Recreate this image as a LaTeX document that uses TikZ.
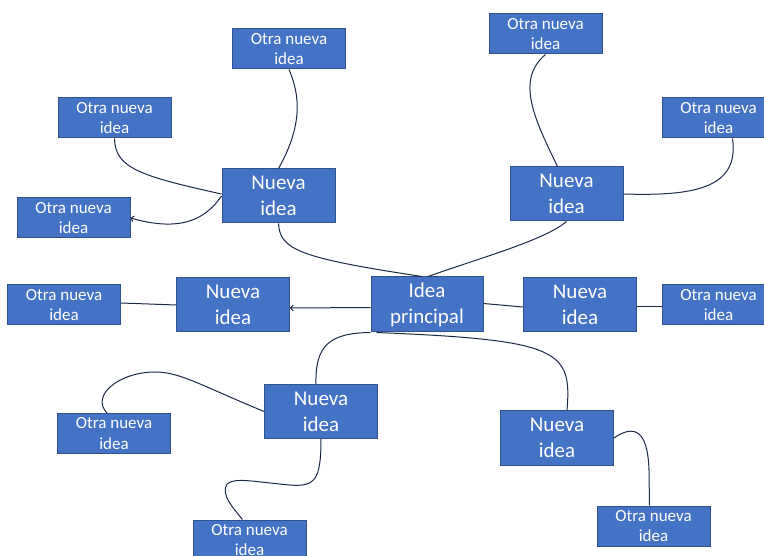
\documentclass[tikz,border=0pt]{standalone}
\usepackage{fontspec}
\setmainfont{Carlito}
\usetikzlibrary{arrows.meta}
\definecolor{boxfill}{HTML}{4472C4}
\definecolor{boxline}{HTML}{2F528F}
\definecolor{linkcol}{HTML}{1C2A48}
\begin{document}
\begin{tikzpicture}[x=1pt,y=-1pt,
  box/.style={rectangle, fill=boxfill, draw=boxline, line width=1pt, text=white,
    align=center, inner sep=0pt, anchor=center},
  leaf/.style={box, minimum width=113pt, minimum height=40pt,
    font=\fontsize{17}{20.5}\selectfont},
  branch/.style={box, minimum width=113pt, minimum height=54pt,
    font=\fontsize{21}{26}\selectfont},
  link/.style={draw=linkcol, line width=1pt},
  hook/.style={-{Straight Barb[length=2.5pt,width=6pt]}}]
\useasboundingbox (0,0) rectangle (764,556);
\clip (0,0) rectangle (764,556);
\fill[white] (0,0) rectangle (764,556);

% central idea and first-level branches
\node[branch, minimum width=112pt, minimum height=55pt] (main) at (427,304.5) {Idea\\principal};
\node[branch] (N1) at (278.5,196) {Nueva\\idea};
\node[branch] (N2) at (566.5,194) {Nueva\\idea};
\node[branch] (N3) at (233,305) {Nueva\\idea};
\node[branch] (N4) at (580,305) {Nueva\\idea};
\node[branch] (N5) at (321,411.5) {Nueva\\idea};
\node[branch] (N6) at (557,438) {Nueva\\idea};

% second-level leaves
\node[leaf] (s1) at (289,49) {Otra nueva\\idea};
\node[leaf] (s2) at (114.5,118) {Otra nueva\\idea};
\node[leaf] (s3) at (73.5,218) {Otra nueva\\idea};
\node[leaf] (s4) at (545.5,34) {Otra nueva\\idea};
\node[leaf] (s5) at (718.5,118) {Otra nueva\\idea};
\node[leaf] (s6) at (64,305) {Otra nueva\\idea};
\node[leaf] (s7) at (718.5,305) {Otra nueva\\idea};
\node[leaf] (s8) at (114,433.5) {Otra nueva\\idea};
\node[leaf] (s9) at (249.5,540) {Otra nueva\\idea};
\node[leaf] (s10) at (653.5,526) {Otra nueva\\idea};

% upper-left branch
\draw[link] (s1.south) .. controls (300,95) and (303,125) .. (N1.north);
\draw[link] (s2.south) .. controls (115,168) and (140,176) .. ([yshift=2pt]N1.west);
\draw[link, hook] (N1.west) .. controls (205,220) and (180,232) .. (s3.east);
\draw[link] (N1.south) .. controls (280,250) and (300,258) .. ([xshift=-5pt]main.north);

% upper-right branch
\draw[link] ([xshift=1pt]main.north) .. controls (480,258) and (545,240) .. (N2.south);
\draw[link] ([xshift=-9pt]N2.north) .. controls (535,120) and (515,80) .. (s4.south);
\draw[link] (N2.east) .. controls (690,196) and (740,190) .. ([xshift=14pt]s5.south);

% horizontal branches
\draw[link] ([yshift=2pt]s6.east) -- (N3.west);
\draw[link, hook] ([yshift=-3pt]main.west) -- ([yshift=-3pt]N3.east);
\draw[link] ([yshift=1pt]main.east) -- ([yshift=-2pt]N4.west);
\draw[link] ([yshift=-2pt]N4.east) -- ([yshift=-2pt]s7.west);

% lower-left branch
\draw[link] (main.south west) .. controls (330,333) and (315,345) .. ([xshift=-5pt]N5.north);
\draw[link] (N5.west) .. controls (200,385) and (180,372) .. (155,372)
  .. controls (120,372) and (90,395) .. ([xshift=-7pt]s8.north);
\draw[link] (N5.south) .. controls (321,480) and (315,487) .. (290,485)
  .. controls (255,482) and (235,477) .. (227,484)
  .. controls (220,495) and (235,510) .. ([xshift=-7pt]s9.north);

% lower-right branch
\draw[link] ([xshift=6pt]main.south west) .. controls (560,340) and (572,350) .. ([xshift=10pt]N6.north);
\draw[link] (N6.east) .. controls (640,420) and (648,440) .. (649,470) -- ([xshift=-4pt]s10.north);
\end{tikzpicture}
\end{document}
